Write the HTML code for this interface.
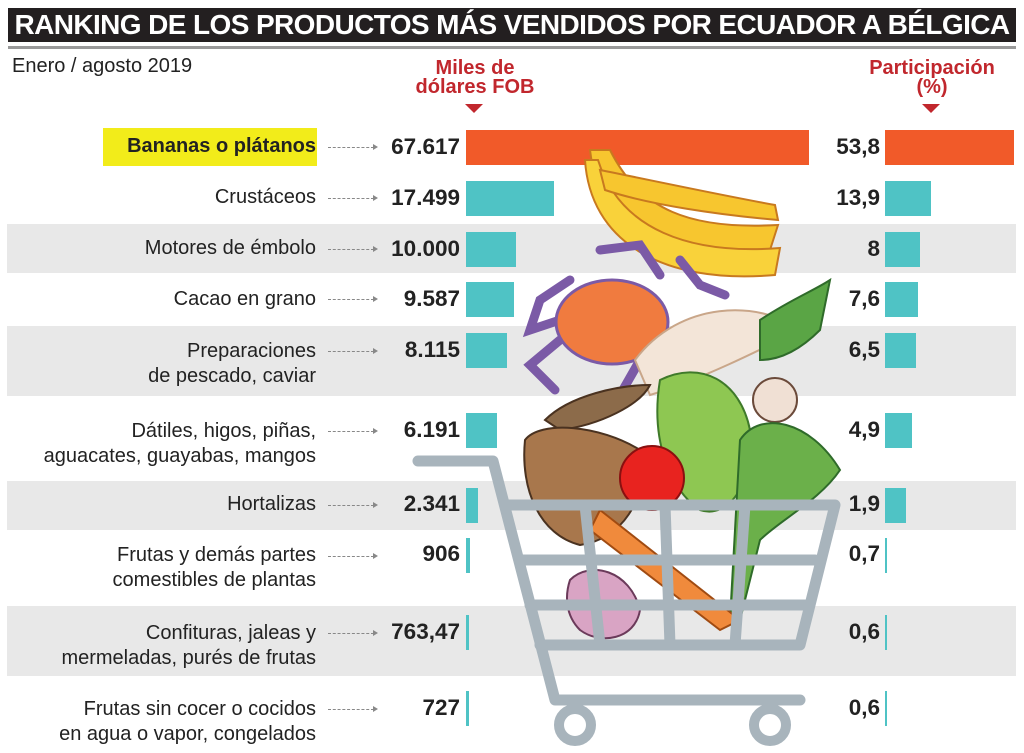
<!DOCTYPE html>
<html><head><meta charset="utf-8"><style>
body{margin:0;width:1024px;height:753px;background:#fff;position:relative;overflow:hidden;font-family:"Liberation Sans",sans-serif;color:#222}
.a{position:absolute}
.title{left:8px;top:8px;width:1008px;height:34px;background:#231f20;color:#fff;font-weight:bold;font-size:28px;line-height:34px;text-align:center;letter-spacing:-0.6px;white-space:nowrap;overflow:hidden}
.stripe{position:absolute;left:7px;width:1009px;background:#e8e8e8}
.lab{position:absolute;right:708px;text-align:right;font-size:20px;line-height:25px;color:#222;white-space:nowrap}
.val{position:absolute;right:564px;text-align:right;font-size:22.5px;font-weight:bold}
.pct{position:absolute;right:144px;text-align:right;font-size:22.5px;font-weight:bold}
.arr{position:absolute;left:328px;width:46px;border-top:1.5px dashed #888}
.arr:after{content:"";position:absolute;right:-4px;top:-4.5px;border-left:5px solid #888;border-top:3.5px solid transparent;border-bottom:3.5px solid transparent}
.bar{position:absolute;background:#4fc3c5}
.hdr{position:absolute;color:#c1272d;font-weight:bold;font-size:20px;line-height:19px;text-align:center}
.tri{position:absolute;border-top:9px solid #c1272d;border-left:9px solid transparent;border-right:9px solid transparent}
</style></head><body>
<div class="a title">RANKING DE LOS PRODUCTOS MÁS VENDIDOS POR ECUADOR A BÉLGICA</div>
<div class="a" style="left:8px;top:46px;width:1008px;height:3px;background:#999"></div>
<div class="a" style="left:12px;top:55px;font-size:20px">Enero / agosto 2019</div>
<div class="hdr" style="left:400px;top:59px;width:150px">Miles de<br>dólares FOB</div>
<div class="tri" style="left:465px;top:104px"></div>
<div class="hdr" style="left:852px;top:59px;width:160px">Participación<br>(%)</div>
<div class="tri" style="left:922px;top:104px"></div>

<div class="stripe" style="top:224px;height:49px"></div>
<div class="stripe" style="top:326px;height:70px"></div>
<div class="stripe" style="top:481px;height:49px"></div>
<div class="stripe" style="top:606px;height:70px"></div>

<div class="a" style="left:103px;top:128px;width:214px;height:38px;background:#f2ec1a"></div>
<div class="lab" style="top:134px;font-weight:bold;font-size:20px">Bananas o plátanos</div>
<div class="lab" style="top:185px">Crustáceos</div>
<div class="lab" style="top:236px">Motores de émbolo</div>
<div class="lab" style="top:287px">Cacao en grano</div>
<div class="lab" style="top:339px">Preparaciones<br>de pescado, caviar</div>
<div class="lab" style="top:419px">Dátiles, higos, piñas,<br>aguacates, guayabas, mangos</div>
<div class="lab" style="top:492px">Hortalizas</div>
<div class="lab" style="top:543px">Frutas y demás partes<br>comestibles de plantas</div>
<div class="lab" style="top:621px">Confituras, jaleas y<br>mermeladas, purés de frutas</div>
<div class="lab" style="top:697px">Frutas sin cocer o cocidos<br>en agua o vapor, congelados</div>

<div class="arr" style="top:147px"></div><div class="arr" style="top:198px"></div><div class="arr" style="top:249px"></div><div class="arr" style="top:299px"></div><div class="arr" style="top:351px"></div><div class="arr" style="top:431px"></div><div class="arr" style="top:505px"></div><div class="arr" style="top:556px"></div><div class="arr" style="top:633px"></div><div class="arr" style="top:709px"></div>

<div class="val" style="top:134px">67.617</div>
<div class="val" style="top:185px">17.499</div>
<div class="val" style="top:236px">10.000</div>
<div class="val" style="top:286px">9.587</div>
<div class="val" style="top:337px">8.115</div>
<div class="val" style="top:417px">6.191</div>
<div class="val" style="top:491px">2.341</div>
<div class="val" style="top:541px">906</div>
<div class="val" style="top:619px">763,47</div>
<div class="val" style="top:695px">727</div>

<div class="bar" style="left:466px;top:130px;width:343px;height:35px;background:#f15a29"></div>
<div class="bar" style="left:466px;top:181px;width:88px;height:35px"></div>
<div class="bar" style="left:466px;top:232px;width:50px;height:35px"></div>
<div class="bar" style="left:466px;top:282px;width:48px;height:35px"></div>
<div class="bar" style="left:466px;top:333px;width:41px;height:35px"></div>
<div class="bar" style="left:466px;top:413px;width:31px;height:35px"></div>
<div class="bar" style="left:466px;top:488px;width:12px;height:35px"></div>
<div class="bar" style="left:466px;top:538px;width:4px;height:35px"></div>
<div class="bar" style="left:466px;top:615px;width:3px;height:35px"></div>
<div class="bar" style="left:466px;top:691px;width:3px;height:35px"></div>

<div class="pct" style="top:134px">53,8</div>
<div class="pct" style="top:185px">13,9</div>
<div class="pct" style="top:236px">8</div>
<div class="pct" style="top:286px">7,6</div>
<div class="pct" style="top:337px">6,5</div>
<div class="pct" style="top:417px">4,9</div>
<div class="pct" style="top:491px">1,9</div>
<div class="pct" style="top:541px">0,7</div>
<div class="pct" style="top:619px">0,6</div>
<div class="pct" style="top:695px">0,6</div>

<div class="bar" style="left:885px;top:130px;width:129px;height:35px;background:#f15a29"></div>
<div class="bar" style="left:885px;top:181px;width:46px;height:35px"></div>
<div class="bar" style="left:885px;top:232px;width:35px;height:35px"></div>
<div class="bar" style="left:885px;top:282px;width:33px;height:35px"></div>
<div class="bar" style="left:885px;top:333px;width:31px;height:35px"></div>
<div class="bar" style="left:885px;top:413px;width:27px;height:35px"></div>
<div class="bar" style="left:885px;top:488px;width:21px;height:35px"></div>
<div class="bar" style="left:885px;top:538px;width:2px;height:35px"></div>
<div class="bar" style="left:885px;top:615px;width:2px;height:35px"></div>
<div class="bar" style="left:885px;top:691px;width:2px;height:35px"></div>

<svg class="a" style="left:0;top:0" width="1024" height="753">
<path d="M590 150 C600 230 640 270 770 250 L778 225 C690 230 640 210 610 150 Z" fill="#f7c62f" stroke="#c8791f" stroke-width="2"/>
<path d="M585 160 C590 240 660 285 775 275 L780 248 C690 255 620 230 598 160 Z" fill="#f9d23a" stroke="#c8791f" stroke-width="2"/>
<path d="M600 170 C650 180 720 195 775 205 L778 220 C720 215 650 205 605 190 Z" fill="#f7c62f" stroke="#c8791f" stroke-width="2"/>
<g stroke="#7b5aa6" stroke-width="9" fill="none" stroke-linecap="round">
<path d="M560 320 L530 330 L540 300 L570 280"/><path d="M560 340 L530 365 L555 390"/><path d="M600 250 L640 245 L660 275"/><path d="M680 260 L700 285 L725 295"/><path d="M640 360 L620 395"/></g>
<ellipse cx="612" cy="322" rx="56" ry="42" fill="#f07b3f" stroke="#7b5aa6" stroke-width="3"/>
<path d="M635 360 C680 300 760 300 800 330 C760 350 700 380 650 395 Z" fill="#f3e5d8" stroke="#c9a689" stroke-width="2"/>
<path d="M760 320 C790 300 815 290 830 280 L820 330 C800 350 780 360 760 360 Z" fill="#5aa545" stroke="#2f6b2a" stroke-width="2"/>
<circle cx="775" cy="400" r="22" fill="#f0e0d4" stroke="#6b4a3a" stroke-width="2"/>
<path d="M545 420 C570 395 620 385 650 385 C640 405 600 425 560 430 Z" fill="#8c6b4a" stroke="#4a3220" stroke-width="2"/>
<path d="M525 440 C540 420 600 425 640 450 C650 500 620 540 580 545 C540 535 520 490 525 440 Z" fill="#a8774c" stroke="#4a3220" stroke-width="2"/>
<path d="M660 380 C700 360 740 380 750 430 C755 480 730 520 700 510 C670 490 650 440 660 380 Z" fill="#8ec752" stroke="#3f7a2a" stroke-width="2"/>
<path d="M740 440 C760 410 810 420 840 470 C820 500 780 520 760 540 L740 620 L730 620 Z" fill="#6bb04a" stroke="#2f6b2a" stroke-width="2"/>
<circle cx="652" cy="478" r="32" fill="#e8231f" stroke="#8a1010" stroke-width="2"/>
<path d="M600 510 L740 620 L720 630 L590 530 Z" fill="#f08a3c" stroke="#a04b12" stroke-width="2"/>
<path d="M570 580 C590 560 630 570 640 610 C635 640 600 645 580 630 C565 615 565 595 570 580 Z" fill="#d9a4c4" stroke="#6b3a5a" stroke-width="2"/>
<g stroke="#a8b4bc" stroke-width="11" fill="none" stroke-linecap="round" stroke-linejoin="round">
<path d="M418 461 L493 461 L555 700 L800 700"/>
<path d="M505 505 L835 505 L800 645 L540 645"/>
<path d="M520 560 L815 560"/><path d="M530 605 L805 605"/>
<path d="M585 505 L600 645"/><path d="M665 505 L670 645"/><path d="M745 505 L735 645"/>
</g>
<circle cx="575" cy="725" r="16" fill="#fff" stroke="#a8b4bc" stroke-width="10"/>
<circle cx="770" cy="725" r="16" fill="#fff" stroke="#a8b4bc" stroke-width="10"/>
</svg>
</body></html>
